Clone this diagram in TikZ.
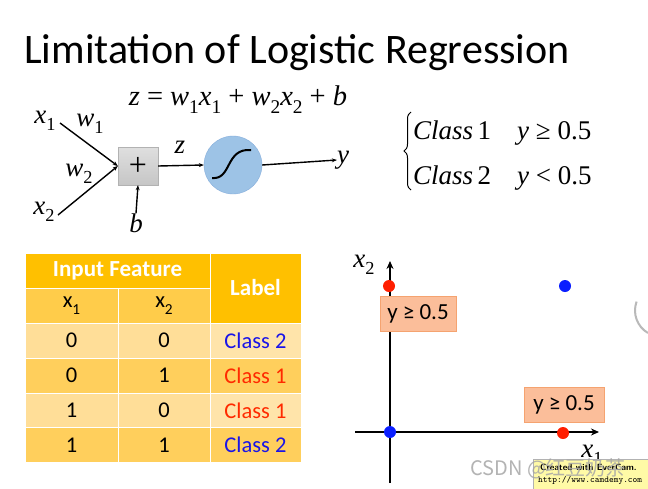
\documentclass[tikz,border=0pt]{standalone}
\usepackage{fontspec}
\setmainfont{Liberation Serif}
\newfontfamily\calib{Carlito}
\newfontfamily\cjkf{Noto Sans CJK SC}
\usetikzlibrary{arrows.meta,decorations.pathreplacing}
\newcommand{\iv}[1]{\textit{#1}}
\newcommand{\sbs}[1]{\raisebox{-0.28em}{\fontsize{0.68em}{0.75em}\selectfont #1}}
\definecolor{hdr}{HTML}{FFC000}
\definecolor{sub}{HTML}{FFCC4A}
\definecolor{rowA}{HTML}{FFDE98}
\definecolor{rowAl}{HTML}{FFE4AA}
\definecolor{rowB}{HTML}{FFCF5C}
\definecolor{neuron}{HTML}{9DC3E6}
\definecolor{neuronb}{HTML}{86AEDC}
\definecolor{salmon}{HTML}{FBBE9A}
\definecolor{salmonb}{HTML}{F5A370}
\definecolor{cred}{HTML}{FF2A00}
\definecolor{cblue}{HTML}{1A14E8}
\definecolor{ptred}{HTML}{FF1E00}
\definecolor{ptblue}{HTML}{0A1EFF}
\tikzset{
  cell/.style={draw=white, line width=0.6pt, inner sep=0pt, font=\calib\fontsize{22.5}{24}\selectfont},
  hcell/.style={cell, fill=hdr, text=white, font=\calib\bfseries\fontsize{23}{25}\selectfont},
  mathlbl/.style={inner sep=0pt, font=\fontsize{27}{29}\selectfont},
  cls/.style={anchor=base west, inner sep=0pt, font=\fontsize{27}{29}\selectfont},
  wire/.style={line width=1.4pt, -{Stealth[length=5pt,width=4pt]}},
  axis/.style={line width=2pt, -{Stealth[length=8pt,width=7pt]}},
  dot/.style={circle, inner sep=0pt, minimum size=12pt},
  ybox/.style={draw=salmonb, fill=salmon, line width=0.8pt, inner sep=0pt, font=\calib\fontsize{23}{25}\selectfont}
}
\begin{document}
\begin{tikzpicture}[x=1pt,y=-1pt]
\useasboundingbox (0,0) rectangle (648,488);
\fill[white] (0,0) rectangle (648,488);

% title
\node[anchor=base west, inner sep=0pt, font=\calib\fontsize{42}{46}\selectfont] (title) at (24,63) {Limitation of Logistic Regression};

% neuron
\node[mathlbl, font=\fontsize{28.5}{30}\selectfont] (eq) at (238,100) {\iv{z} = \iv{w}\sbs{1}\iv{x}\sbs{1} + \iv{w}\sbs{2}\iv{x}\sbs{2} + \iv{b}};
\node[draw=gray!60, top color=gray!25, bottom color=gray!45, minimum width=40pt, minimum height=38pt, inner sep=0pt, font=\fontsize{32}{32}\selectfont] (sum) at (138,166) {+};
\node[circle, draw=neuronb, fill=neuron, minimum size=58pt, inner sep=0pt] (sig) at (233,165) {};
\draw[line width=2pt] (212,178) .. controls (232,180) and (225,148) .. (251,150);
\node[mathlbl] (x1) at (45,121) {\iv{x}\sbs{1}};
\node[mathlbl] (w1) at (90,124) {\iv{w}\sbs{1}};
\node[mathlbl] (w2) at (79,174) {\iv{w}\sbs{2}};
\node[mathlbl] (x2) at (44,212) {\iv{x}\sbs{2}};
\node[mathlbl] (b) at (136,223) {\iv{b}};
\node[mathlbl] (zl) at (180,147) {\iv{z}};
\node[mathlbl] (y) at (343,160) {\iv{y}};
\coordinate (x1e) at (60,123);
\coordinate (x2e) at (58,215);
\draw[wire] (x1e) -- (sum.west);
\draw[wire] (x2e) -- (sum.west);
\draw[wire] (b.north) -- (sum.south);
\draw[wire] (sum.east) -- (sig.west);
\draw[wire] (sig.east) -- (y.west);

% classes
\coordinate (brb) at (411,190);
\coordinate (brt) at (411,112);
\draw[line width=1pt, decorate, decoration={brace, amplitude=7pt}] (brb) -- (brt);
\node[cls] (c1) at (413,139) {\iv{Class}\,1};
\node[cls] (c1v) at (517,139) {\iv{y} ≥ 0.5};
\node[cls] (c2) at (413,184) {\iv{Class}\,2};
\node[cls] (c2v) at (517,184) {\iv{y} < 0.5};

% table
\node[hcell, minimum width=185pt, minimum height=35pt] (hin) at (117.5,270.5) {Input Feature};
\node[hcell, minimum width=91pt, minimum height=70pt] (hlab) at (255.5,288) {Label};
\node[cell, fill=sub, minimum width=93pt, minimum height=35pt] (hx1) at (71.5,305.5) {x\sbs{1}};
\node[cell, fill=sub, minimum width=92pt, minimum height=35pt] (hx2) at (164,305.5) {x\sbs{2}};
% rows
\node[cell, fill=rowA, minimum width=93pt, minimum height=35pt] (r1a) at (71.5,340.5) {0};
\node[cell, fill=rowA, minimum width=92pt, minimum height=35pt] (r1b) at (164,340.5) {0};
\node[cell, fill=rowAl, minimum width=91pt, minimum height=35pt, text=cblue] (r1c) at (255.5,340.5) {Class 2};
\node[cell, fill=rowB, minimum width=93pt, minimum height=35pt] (r2a) at (71.5,375.5) {0};
\node[cell, fill=rowB, minimum width=92pt, minimum height=35pt] (r2b) at (164,375.5) {1};
\node[cell, fill=rowB, minimum width=91pt, minimum height=35pt, text=cred] (r2c) at (255.5,375.5) {Class 1};
\node[cell, fill=rowA, minimum width=93pt, minimum height=35pt] (r3a) at (71.5,410.5) {1};
\node[cell, fill=rowA, minimum width=92pt, minimum height=35pt] (r3b) at (164,410.5) {0};
\node[cell, fill=rowAl, minimum width=91pt, minimum height=35pt, text=cred] (r3c) at (255.5,410.5) {Class 1};
\node[cell, fill=rowB, minimum width=93pt, minimum height=35pt] (r4a) at (71.5,445) {1};
\node[cell, fill=rowB, minimum width=92pt, minimum height=35pt] (r4b) at (164,445) {1};
\node[cell, fill=rowB, minimum width=91pt, minimum height=35pt, text=cblue] (r4c) at (255.5,445) {Class 2};

% plot
\coordinate (yb) at (390,483);
\coordinate (yt) at (390,261);
\coordinate (xl) at (355,432);
\coordinate (xr) at (599,432);
\draw[axis] (yb) -- (yt);
\draw[axis] (xl) -- (xr);
\node[mathlbl] (x2ax) at (364,265) {\iv{x}\sbs{2}};
\node[mathlbl] (x1ax) at (592,455) {\iv{x}\sbs{1}};
\node[ybox, minimum width=76pt, minimum height=35pt] (box1) at (418,313.5) {y ≥ 0.5};
\node[ybox, minimum width=80pt, minimum height=35pt] (box2) at (564,405) {y ≥ 0.5};
\node[dot, fill=ptred] (p01) at (389,286) {};
\node[dot, fill=ptblue] (p11) at (565,286) {};
\node[dot, fill=ptblue] (p00) at (390,432) {};
\node[dot, fill=ptred] (p10) at (563,433) {};

% partial grey shape at right edge
\draw[gray!55, line width=2pt] (648,333) arc[start angle=120, end angle=200, radius=26];

% watermarks
\node[draw=gray!60, fill=yellow!35, anchor=north west, minimum width=120pt, minimum height=30pt, inner sep=0pt] (ever) at (533,459) {};
\node[anchor=west, inner sep=0pt, font=\sffamily\bfseries\fontsize{9}{10}\selectfont] (ev1) at (540,467) {Created with EverCam.};
\node[anchor=west, inner sep=0pt, font=\ttfamily\fontsize{9}{10}\selectfont] (ev2) at (538,480) {http://www.camdemy.com};
\node[anchor=west, inner sep=0pt, text=gray!70, opacity=0.85, font=\cjkf\fontsize{20}{22}\selectfont] (csdn) at (470,469) {CSDN @红豆奶茶};
\end{tikzpicture}
\end{document}
